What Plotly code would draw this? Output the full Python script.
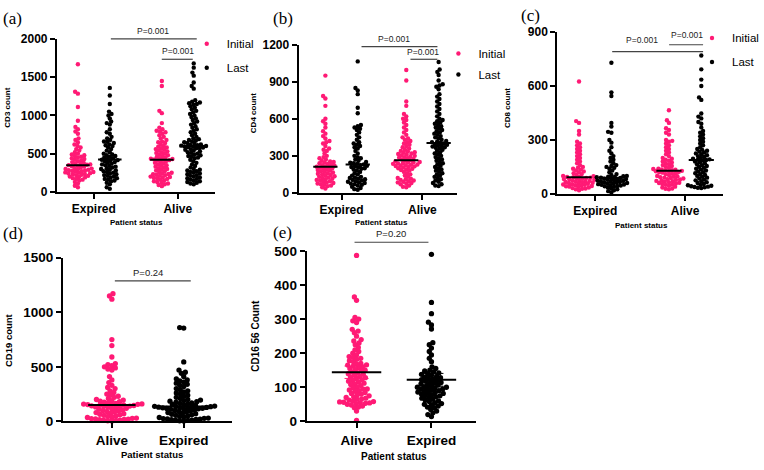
import math
import numpy as np
import plotly.graph_objects as go

W, H = 764, 470
PINK = "#FF1A75"
BLACK = "#000000"
FONT = "Liberation Sans, Arial, sans-serif"
SERIF = "Liberation Serif, Times New Roman, serif"

# ---------------- categories / labels ----------------
top_categories = ["Expired", "Alive"]
bottom_categories = ["Alive", "Expired"]
series_names = ["Initial", "Last"]
y_titles = ["CD3 count", "CD4 count", "CD8 count", "CD19 count", "CD16 56 Count"]
x_title = "Patient status"
panel_tags = ["(a)", "(b)", "(c)", "(d)", "(e)"]

a_ticks = [0, 500, 1000, 1500, 2000]
b_ticks = [0, 300, 600, 900, 1200]
c_ticks = [0, 300, 600, 900]
d_ticks = [0, 500, 1000, 1500]
e_ticks = [0, 100, 200, 300, 400, 500]

a_pvalues = ["P=0.001", "P=0.001"]
b_pvalues = ["P=0.001", "P=0.001"]
c_pvalues = ["P=0.001", "P=0.001"]
d_pvalues = ["P=0.24"]
e_pvalues = ["P=0.20"]

# ---------------- data ----------------
# (a) CD3
a_expired_initial = [1670, 1310, 1285, 1110, 930, 850, 820, 790, 760, 700, 680, 650,
                     620, 600, 580, 560, 540, 520, 500, 490, 480, 470, 460, 450, 440, 430,
                     420, 410, 400, 390, 380, 370, 365, 360, 355,
                     350, 340, 335, 330, 320, 310, 305, 300, 295, 290, 285, 280, 275, 270,
                     265, 260, 255, 250, 245, 240, 235, 230, 225, 220, 210, 200, 195, 190,
                     180, 170, 160, 150, 130, 110, 80, 60]
a_expired_last = [1360, 1260, 1150, 1050, 1020, 1000, 960, 920, 900, 880, 820, 780, 760, 720,
                  700, 680, 660, 655, 640, 620, 610, 600, 580, 560, 540, 520, 500, 490, 480,
                  470, 460, 450, 440, 430, 420, 415, 410,
                  400, 390, 380, 370, 360, 350, 340, 330, 320, 310, 300, 290, 280, 270, 260,
                  250, 240, 230, 220, 210, 200, 190, 180, 170, 160, 150, 140, 120, 100, 60, 40]
a_alive_initial = [1450, 1385, 1060, 1030, 900, 840, 820, 800, 790, 780, 760, 740, 720, 700,
                   680, 660, 650, 640, 620, 600, 590, 580, 570, 560, 550, 540, 530, 520, 510,
                   500, 490, 480, 470, 460, 450, 440, 435, 430, 425, 420,
                   415, 410, 400, 390, 380, 370, 360, 350, 340, 330, 320, 310, 300, 290, 280,
                   270, 260, 250, 240, 235, 230, 225, 220, 210, 200, 195, 190, 185, 180, 170,
                   160, 150, 140, 130, 120, 110, 100, 90, 75]
a_alive_last = [1680, 1625, 1560, 1520, 1430, 1385, 1350, 1200, 1180, 1170, 1160, 1150, 1140,
                1120, 1100, 1080, 1060, 1040, 1020, 1000, 980, 960, 940, 920, 900, 880, 860,
                840, 820, 800, 780, 760, 740, 720, 700, 690, 680, 670, 660, 650, 640, 630,
                620, 615, 610, 605, 600,
                595, 590, 585, 580, 575, 570, 560, 550, 540, 530, 520, 510, 500, 490, 480,
                470, 460, 450, 440, 420, 400, 380, 360, 340, 320, 300, 290, 280, 270, 260,
                250, 240, 230, 220, 210, 200, 190, 180, 170, 160, 150, 140, 130, 120, 110, 100]

# (b) CD4
b_expired_initial = [950, 785, 765, 705, 600, 580, 560, 530, 500, 480, 460, 440, 420, 410, 400,
                     380, 360, 350, 340, 320, 300, 290, 280, 270, 260, 255, 250, 245, 240, 235,
                     230, 225, 220, 215, 212,
                     210, 205, 200, 195, 190, 185, 180, 175, 170, 165, 160, 155, 150, 145, 140,
                     135, 130, 125, 120, 115, 110, 105, 100, 95, 90, 85, 80, 75, 70, 65, 60, 55,
                     45, 35]
b_expired_last = [1065, 850, 830, 800, 690, 645, 550, 540, 530, 520, 510, 490,
                  470, 450, 430, 410, 400, 390, 380, 370, 360, 340, 320, 300, 290, 280, 270,
                  260, 250, 245, 240, 235, 230,
                  225, 220, 215, 210, 205, 200, 195, 190, 180, 170, 160, 150, 140, 130, 125,
                  120, 115, 110, 105, 100, 95, 90, 85, 80, 75, 70, 65, 60, 50, 40, 30, 25]
b_alive_initial = [995, 910, 740, 705, 640, 620, 600, 590, 570, 550, 530, 510, 490, 470,
                   450, 440, 430, 420, 410, 400, 390, 380, 370, 360, 350, 340, 335, 330, 325,
                   320, 315, 310, 305, 300, 295, 290, 285, 280, 275, 270, 265,
                   260, 255, 250, 248, 245, 240, 238, 235, 230, 228, 225, 220, 218, 215, 210,
                   205, 200, 195, 190, 185, 180, 170, 160, 150, 140, 130, 120, 115, 110, 105,
                   100, 95, 90, 85, 80, 75, 70, 60, 50, 45]
b_alive_last = [1060, 1000, 980, 955, 910, 880, 870, 860, 840, 800, 780, 760, 740, 720, 700,
                680, 660, 640, 620, 600, 590, 580, 570, 560, 550, 540, 530, 520, 510, 500,
                490, 480, 470, 460, 450, 440, 430, 420, 415, 410, 405,
                400, 395, 390, 385, 380, 375, 370, 365, 360, 350, 340, 330, 320, 310, 300,
                290, 280, 270, 260, 250, 240, 230, 220, 210, 200, 190, 180, 170, 160, 150,
                140, 130, 120, 110, 100, 90, 80, 70, 60, 55]

# (c) CD8
c_expired_initial = [625, 405, 395, 350, 330, 290, 280, 270, 260, 250, 240, 230, 220, 210, 200,
                     190, 180, 170, 160, 150, 145, 140, 135, 130, 125, 120, 115, 110, 105, 100,
                     98, 96, 94, 92,
                     90, 88, 86, 84, 82, 80, 78, 76, 74, 72, 70, 68, 66, 64, 62, 60, 58, 56, 54,
                     52, 50, 48, 46, 44, 42, 40, 38, 35, 32, 30, 28, 25, 20]
c_expired_last = [730, 565, 545, 395, 375, 345, 340, 300, 285, 260, 240, 225, 210, 200, 190,
                  180, 170, 160, 155, 150, 145, 140, 130, 120, 110, 105, 100, 98, 96, 94, 92, 90,
                  88, 86, 84, 82, 80, 78, 76, 74, 72, 70, 68, 66, 64, 62, 60, 58, 56, 54, 52,
                  50, 48, 46, 44, 42, 40, 35, 30, 25, 20, 15, 8]
c_alive_initial = [465, 410, 395, 365, 355, 340, 330, 300, 295, 290, 280, 270, 260, 250, 240,
                   230, 220, 210, 200, 195, 190, 185, 180, 175, 170, 165, 160, 155, 150, 145,
                   140, 138, 136, 134, 132, 130, 128,
                   126, 124, 122, 120, 118, 115, 112, 110, 105, 100, 98, 95, 92, 90, 88, 85,
                   82, 80, 78, 75, 72, 70, 68, 65, 62, 60, 58, 55, 52, 50, 45, 40, 35, 30, 28, 25]
c_alive_last = [770, 693, 636, 600, 537, 523, 447, 430, 420, 400, 390, 370, 350, 340, 330, 320,
                310, 300, 290, 280, 270, 260, 250, 245, 240, 235, 230, 225, 220, 215, 210, 205,
                200, 195, 192, 190, 188,
                185, 180, 175, 170, 165, 160, 155, 150, 145, 140, 135, 130, 125, 120, 115, 110,
                105, 100, 95, 90, 85, 80, 75, 70, 65, 60, 55, 50, 48, 45, 42, 40, 38, 36, 34, 32]

# (d) CD19
d_alive = [1170, 1150, 1120, 750, 695, 590, 530, 520, 510, 500, 490, 480, 470, 410, 380, 355,
           330, 310, 300, 280, 265, 250, 240, 230, 220, 210, 200, 195, 190, 185, 180, 175, 170,
           165, 160, 158, 156, 154, 152, 150,
           148, 145, 142, 140, 138, 135, 132, 130, 125, 120, 115, 110, 105, 100, 95, 90, 85,
           80, 75, 70, 65, 60, 55, 50, 45, 40, 35, 30, 28, 25, 22, 20, 18, 15, 12, 10, 8, 5, 3]
d_expired = [860, 855, 545, 470, 450, 440, 410, 390, 380, 370, 360, 350, 340, 330, 320, 300,
             290, 280, 270, 260, 250, 240, 230, 220, 210, 200, 195, 190, 185, 180, 175, 170,
             165, 160, 155, 150, 145, 140, 138, 136,
             134, 132, 130, 128, 126, 124, 122, 120, 118, 115, 112, 110, 105, 100, 95, 90, 85,
             80, 75, 70, 65, 60, 55, 50, 45, 40, 35, 30, 28, 25, 22, 20, 18, 15, 12, 10, 8, 5, 3]

# (e) CD16 56
e_alive = [487, 365, 355, 305, 300, 295, 290, 270, 265, 260, 250, 240, 236, 230, 225, 217, 210,
           205, 200, 195, 190, 188, 185, 182, 178, 175, 170, 168, 166, 165, 162, 160, 158, 155,
           152, 150, 148, 145, 142, 140, 138, 135, 132, 130, 128, 125, 122, 120, 118, 115, 112,
           110, 108, 105, 100, 98, 95, 95, 92, 90, 88, 85, 82, 80, 78, 75, 72, 70, 68, 66, 65,
           62, 60, 58, 57, 56, 55, 54, 53, 52, 50, 48, 45, 42, 40, 30, 3]
e_expired = [490, 349, 316, 291, 283, 271, 231, 225, 215, 205, 195, 185, 175, 160, 155, 150,
             148, 145, 142, 140, 138, 135, 132, 130, 128, 126, 124, 122, 120, 118, 116, 114,
             112, 110, 108, 106, 104, 102, 100, 100, 98, 96, 95, 94, 92, 90, 88, 86, 85, 84,
             82, 80, 78, 76, 75, 72, 70, 68, 65, 62, 60, 58, 55, 52, 50, 48, 45, 42, 40, 35,
             30, 25, 20, 14]


# ---------------- layout geometry (window pixels) ----------------
def px_x(p):
    return p / W


def px_y(p):
    return 1 - p / H


panels = [
    dict(xdom=(57, 215), ydom=(33, 191), xr=(0.56, 2.44), yr=(0, 2000), ticks=a_ticks,
         cats=top_categories, off=0.19, hw=0.14, size=4.4,
         groups=[(1, -1, PINK, a_expired_initial), (1, 1, BLACK, a_expired_last),
                 (2, -1, PINK, a_alive_initial), (2, 1, BLACK, a_alive_last)],
         tag_xy=(13, 12), ytitle_xy=(8, 104), xtitle_xy=(137, 223), ticklab=(12, 8),
         legend=(187, 23, 5), brackets=[((111, 197, 33), (153, 25)), ((162, 193, 54), (178, 45))],
         pv=a_pvalues, pfs=8.5),
    dict(xdom=(299, 458), ydom=(39, 192), xr=(0.469, 2.432), yr=(0, 1200), ticks=b_ticks,
         cats=top_categories, off=0.2, hw=0.15, size=4.4,
         groups=[(1, -1, PINK, b_expired_initial), (1, 1, BLACK, b_expired_last),
                 (2, -1, PINK, b_alive_initial), (2, 1, BLACK, b_alive_last)],
         tag_xy=(283, 12), ytitle_xy=(254, 110), xtitle_xy=(382, 223), ticklab=(12, 8),
         legend=(439, 33, 2), brackets=[((362, 438, 41), (395, 33)), ((411, 438, 54), (424, 47))],
         pv=b_pvalues, pfs=8.5),
    dict(xdom=(558, 724), ydom=(26, 193), xr=(0.578, 2.422), yr=(0, 900), ticks=c_ticks,
         cats=top_categories, off=0.18, hw=0.14, size=4.4,
         groups=[(1, -1, PINK, c_expired_initial), (1, 1, BLACK, c_expired_last),
                 (2, -1, PINK, c_alive_initial), (2, 1, BLACK, c_alive_last)],
         tag_xy=(531, 9), ytitle_xy=(508, 104), xtitle_xy=(642, 226), ticklab=(12, 8),
         legend=(693, 17, 5), brackets=[((613, 704, 46), (643, 34)), ((670, 704, 39), (688, 29))],
         pv=c_pvalues, pfs=8.5),
    dict(xdom=(63, 232), ydom=(259, 428), xr=(0.319, 2.667), yr=(0, 1500), ticks=d_ticks,
         cats=bottom_categories, off=0.0, hw=0.33, size=5.3,
         groups=[(1, 0, PINK, d_alive), (2, 0, BLACK, d_expired)],
         tag_xy=(13, 234), ytitle_xy=(8, 344), xtitle_xy=(152, 462), ticklab=(13.5, 9.5),
         legend=None, brackets=[((115, 191, 283), (148, 274))], pv=d_pvalues, pfs=9.5),
    dict(xdom=(307, 477), ydom=(252, 428), xr=(0.333, 2.6), yr=(0, 500), ticks=e_ticks,
         cats=bottom_categories, off=0.0, hw=0.33, size=5.3,
         groups=[(1, 0, PINK, e_alive), (2, 0, BLACK, e_expired)],
         tag_xy=(283, 233), ytitle_xy=(255, 340), xtitle_xy=(395, 464), ticklab=(13.5, 10),
         legend=None, brackets=[((355, 429, 243), (392, 234))], pv=e_pvalues, pfs=9.5,
         errbars=True),
]


def swarm(values, ppu_y, spacing):
    """Deterministic beeswarm: returns horizontal pixel offsets."""
    ys = np.asarray(values, dtype=float) * ppu_y
    order = np.argsort(ys)
    xs = np.zeros(len(ys))
    placed = []
    d2 = spacing * spacing
    for i in order:
        y = ys[i]
        near = [(px, py) for px, py in placed if abs(y - py) < spacing]
        cands = [0.0]
        for px, py in near:
            dx = math.sqrt(max(d2 - (y - py) ** 2, 0.0))
            cands += [px + dx, px - dx]
        cands.sort(key=lambda c: (abs(c), c))
        for c in cands:
            if all((c - px) ** 2 + (y - py) ** 2 >= d2 - 1e-6 for px, py in near):
                xs[i] = c
                break
        placed.append((xs[i], y))
    return xs


def text_ann(text, x, y, size, family=FONT, weight="normal", color="black", angle=0,
             xanchor="center"):
    return dict(text=text, x=x, y=y, xref="paper", yref="paper", showarrow=False,
                xanchor=xanchor, yanchor="middle", textangle=angle,
                font=dict(family=family, size=size, color=color, weight=weight))


fig = go.Figure()
annotations = []
shapes = []
layout_axes = {}

for k, P in enumerate(panels):
    n = k + 1
    xa = "x" if n == 1 else f"x{n}"
    ya = "y" if n == 1 else f"y{n}"
    ppu_x = (P["xdom"][1] - P["xdom"][0]) / (P["xr"][1] - P["xr"][0])
    ppu_y = (P["ydom"][1] - P["ydom"][0]) / (P["yr"][1] - P["yr"][0])
    spacing = P["size"] * 0.78
    legend_id = None
    if P["legend"] is not None:
        legend_id = "legend" if n == 1 else f"legend{n}"

    series = {PINK: ([], []), BLACK: ([], [])}
    for cat, side, col, vals in P["groups"]:
        center = cat + side * P["off"]
        offs = swarm(vals, ppu_y, spacing) / ppu_x
        series[col][0].extend(list(center + offs))
        series[col][1].extend(list(vals))
    for si, col in enumerate([PINK, BLACK]):
        xs, ys = series[col]
        fig.add_trace(go.Scatter(
            x=xs, y=ys, mode="markers", xaxis=xa, yaxis=ya,
            marker=dict(color=col, size=P["size"], line=dict(width=0)),
            name=series_names[si], cliponaxis=False,
            showlegend=legend_id is not None,
            legend=legend_id if legend_id else "legend",
            legendgroup=f"p{n}_{si}", hoverinfo="y"))

    # central lines (median; mean with 95% CI for panel e)
    for cat, side, col, vals in P["groups"]:
        center = cat + side * P["off"]
        arr = np.asarray(vals, dtype=float)
        if P.get("errbars"):
            m = arr.mean()
            ci = 1.96 * arr.std(ddof=1) / math.sqrt(len(arr))
            fig.add_trace(go.Scatter(
                x=[center], y=[m], mode="markers", xaxis=xa, yaxis=ya,
                marker=dict(size=1, color=col, opacity=0),
                error_y=dict(type="data", array=[ci], color=col, thickness=1, width=12),
                showlegend=False, hoverinfo="skip"))
        else:
            m = float(np.median(arr))
        fig.add_trace(go.Scatter(
            x=[center - P["hw"], center + P["hw"]], y=[m, m], mode="lines",
            xaxis=xa, yaxis=ya, line=dict(color=BLACK, width=2),
            showlegend=False, hoverinfo="skip", cliponaxis=False))

    axis_common = dict(showline=True, linewidth=2, linecolor="black", ticks="outside",
                       ticklen=5, tickwidth=2, tickcolor="black", showgrid=False,
                       zeroline=False, fixedrange=True)
    layout_axes["xaxis" if n == 1 else f"xaxis{n}"] = dict(
        axis_common, domain=[px_x(P["xdom"][0]), px_x(P["xdom"][1])],
        range=list(P["xr"]), anchor=ya, tickmode="array", tickvals=[1, 2],
        ticktext=P["cats"],
        tickfont=dict(family=FONT, size=P["ticklab"][0], color="black", weight="bold"))
    layout_axes["yaxis" if n == 1 else f"yaxis{n}"] = dict(
        axis_common, domain=[px_y(P["ydom"][1]), px_y(P["ydom"][0])],
        range=list(P["yr"]), anchor=xa, tickmode="array", tickvals=P["ticks"],
        tickfont=dict(family=FONT, size=P["ticklab"][0], color="black", weight="bold"))

    annotations.append(text_ann(panel_tags[k], px_x(P["tag_xy"][0]), px_y(P["tag_xy"][1]),
                                17, family=SERIF))
    annotations.append(text_ann(y_titles[k], px_x(P["ytitle_xy"][0]), px_y(P["ytitle_xy"][1]),
                                P["ticklab"][1], weight="bold", angle=-90))
    annotations.append(text_ann(x_title, px_x(P["xtitle_xy"][0]), px_y(P["xtitle_xy"][1]),
                                P["ticklab"][1], weight="bold"))
    for ((x0, x1, yl), (tx, ty)), txt in zip(P["brackets"], P["pv"]):
        shapes.append(dict(type="line", xref="paper", yref="paper", x0=px_x(x0), x1=px_x(x1),
                           y0=px_y(yl), y1=px_y(yl), line=dict(color="#444444", width=1.2)))
        annotations.append(text_ann(txt, px_x(tx), px_y(ty), P["pfs"], color="#222222"))

    if legend_id:
        lx, ly, gap = P["legend"]
        layout_axes[legend_id] = dict(
            x=px_x(lx), y=px_y(ly), xanchor="left", yanchor="top",
            bgcolor="rgba(0,0,0,0)", borderwidth=0, traceorder="grouped", tracegroupgap=gap,
            font=dict(family=FONT, size=11.5, color="black"), itemsizing="trace")

fig.update_layout(
    width=W, height=H, margin=dict(l=0, r=0, t=0, b=0),
    paper_bgcolor="white", plot_bgcolor="white",
    annotations=annotations, shapes=shapes, showlegend=True,
    **layout_axes)

# the page's default 8px body margin would push the 764x470 figure out of the window
fig.write_html("out.html", config={"displayModeBar": False},
               post_script="document.body.style.margin='0';")
